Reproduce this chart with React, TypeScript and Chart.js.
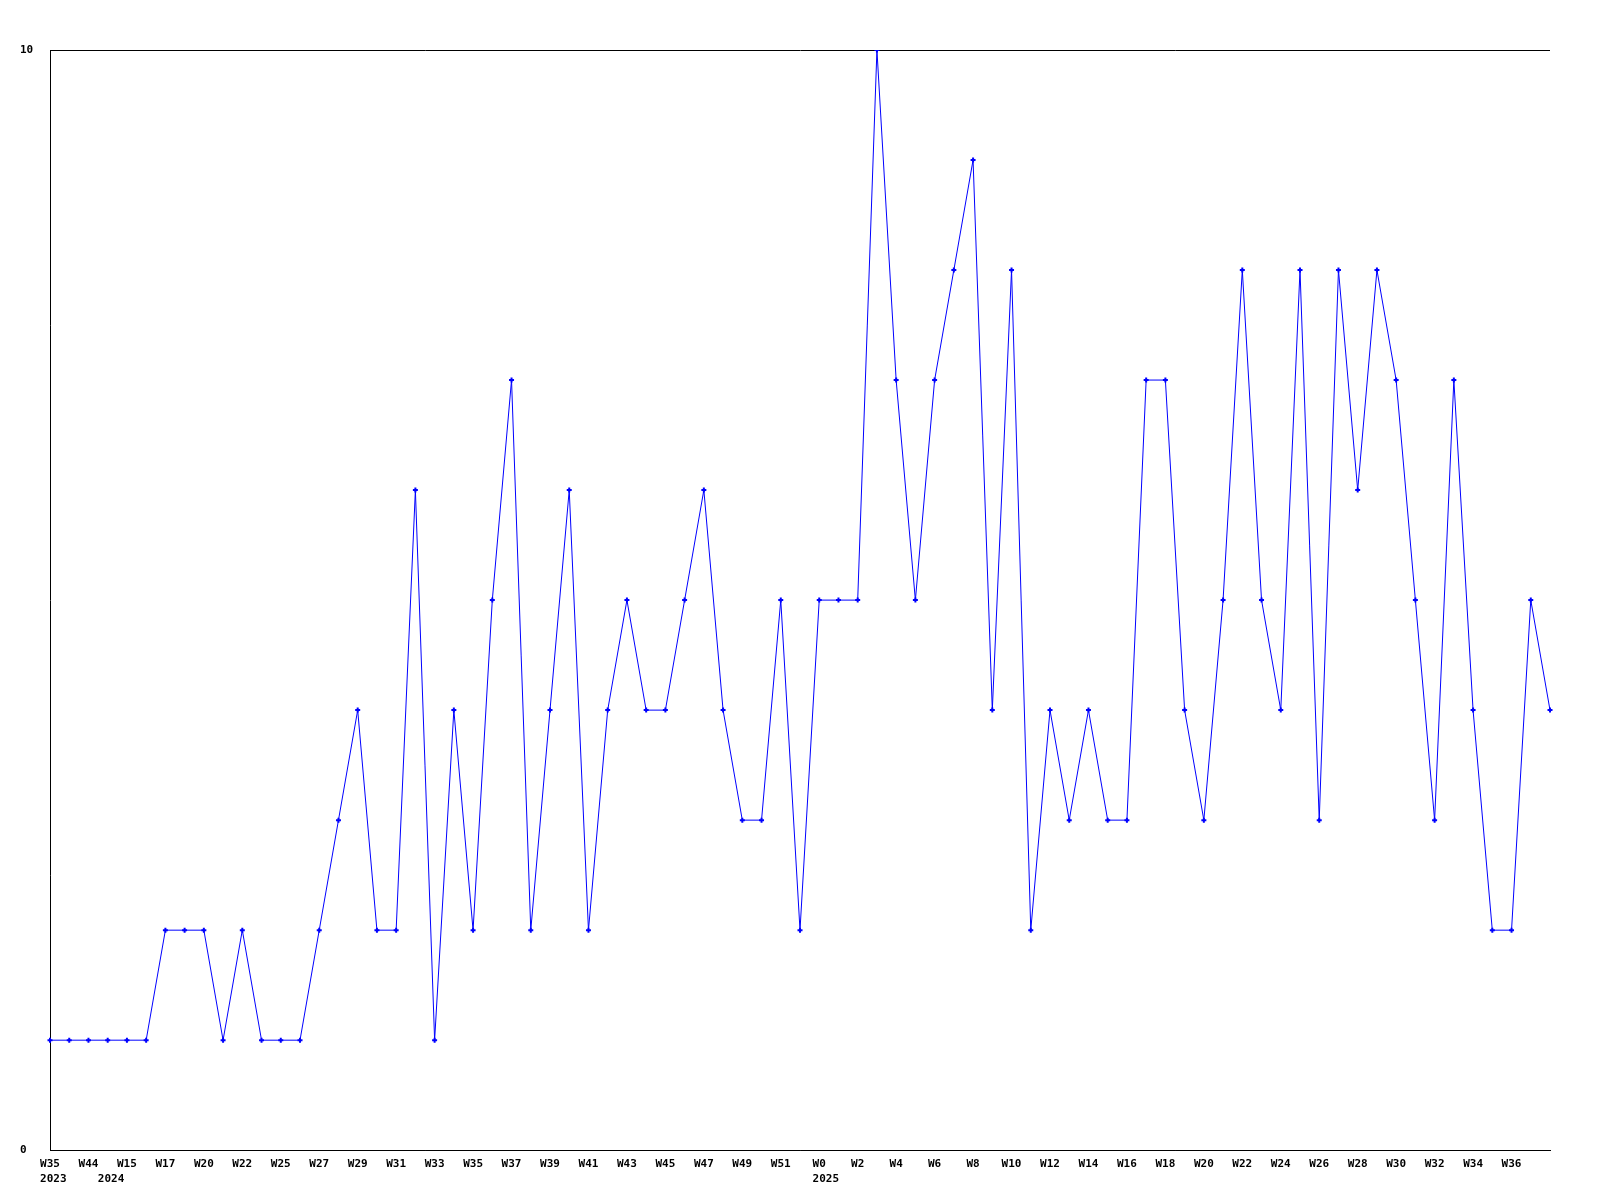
import React, { useEffect, useRef } from "react";
import { Chart, registerables } from "chart.js";

Chart.register(...registerables);

const weeks: string[] = [
  "W35", "W40", "W44", "W14", "W15", "W16", "W17", "W19", "W20", "W21",
  "W22", "W24", "W25", "W26", "W27", "W28", "W29", "W30", "W31", "W32",
  "W33", "W34", "W35", "W36", "W37", "W38", "W39", "W40", "W41", "W42",
  "W43", "W44", "W45", "W46", "W47", "W48", "W49", "W50", "W51", "W52",
  "W0", "W1", "W2", "W3", "W4", "W5", "W6", "W7", "W8", "W9",
  "W10", "W11", "W12", "W13", "W14", "W15", "W16", "W17", "W18", "W19",
  "W20", "W21", "W22", "W23", "W24", "W25", "W26", "W27", "W28", "W29",
  "W30", "W31", "W32", "W33", "W34", "W35", "W36", "W37", "W38",
];

const years: string[] = weeks.map(() => "");
years[0] = "2023";
years[3] = "2024";
years[40] = "2025";

const values: number[] = [
  1, 1, 1, 1, 1, 1, 2, 2, 2, 1,
  2, 1, 1, 1, 2, 3, 4, 2, 2, 6,
  1, 4, 2, 5, 7, 2, 4, 6, 2, 4,
  5, 4, 4, 5, 6, 4, 3, 3, 5, 2,
  5, 5, 5, 10, 7, 5, 7, 8, 9, 4,
  8, 2, 4, 3, 4, 3, 3, 7, 7, 4,
  3, 5, 8, 5, 4, 8, 3, 8, 6, 8,
  7, 5, 3, 7, 4, 2, 2, 5, 4,
];

const yTicks: number[] = [0, 10];

const FONT_FAMILY = "DejaVu Sans Mono";
const FONT_SIZE = 11;
const LINE_H = 1.4;
const TICK_PAD = 6;

const yearPlugin = {
  id: "yearLabels",
  afterDraw(chart: any) {
    const xs = chart.scales.x;
    const ctx = chart.ctx;
    ctx.save();
    ctx.font = `bold ${FONT_SIZE}px "${FONT_FAMILY}"`;
    ctx.fillStyle = "#000";
    ctx.textAlign = "left";
    ctx.textBaseline = "middle";
    const lh = FONT_SIZE * LINE_H;
    const y = xs.top + TICK_PAD + 1.5 * lh;
    years.forEach((yr, i) => {
      if (!yr) return;
      const px = xs.getPixelForValue(i);
      const w = ctx.measureText(weeks[i]).width;
      ctx.fillText(yr, px - w / 2, y);
    });
    ctx.restore();
  },
};

export default function App() {
  const ref = useRef<HTMLCanvasElement | null>(null);

  useEffect(() => {
    if (!ref.current) return;
    const font = { family: FONT_FAMILY, size: FONT_SIZE, weight: "bold" as const, lineHeight: LINE_H };
    const chart = new Chart(ref.current, {
      type: "line",
      data: {
        labels: weeks,
        datasets: [
          {
            data: values,
            borderColor: "#0000ff",
            backgroundColor: "#0000ff",
            borderWidth: 1,
            pointStyle: "cross",
            pointRadius: 2.5,
            pointBorderWidth: 2,
            pointBorderColor: "#0000ff",
            tension: 0,
            fill: false,
          },
        ],
      },
      options: {
        animation: false,
        responsive: false,
        maintainAspectRatio: false,
        layout: { padding: { left: 20, right: 50, top: 50, bottom: 7 } },
        plugins: { legend: { display: false }, tooltip: { enabled: false } },
        scales: {
          x: {
            type: "category",
            offset: false,
            grid: { display: false, drawTicks: false },
            border: { display: true, color: "#000", width: 1 },
            ticks: {
              autoSkip: false,
              maxRotation: 0,
              minRotation: 0,
              padding: TICK_PAD,
              color: "#000",
              font,
              callback: (_v: any, i: number) => {
                const w = i % 2 === 0 && i <= 76 ? weeks[i] : "";
                return [w, ""];
              },
            },
          },
          y: {
            min: 0,
            max: 10,
            afterFit: (s: any) => {
              s.width = 30;
            },
            afterBuildTicks: (s: any) => {
              s.ticks = yTicks.map((v) => ({ value: v }));
            },
            grid: { display: true, color: "#000", lineWidth: 1, drawTicks: false },
            border: { display: true, color: "#000", width: 1 },
            ticks: {
              crossAlign: "far",
              padding: 0,
              color: "#000",
              font,
            },
          },
        },
      },
      plugins: [yearPlugin],
    });
    return () => chart.destroy();
  }, []);

  return (
    <div style={{ position: "fixed", left: 0, top: 0, width: 1600, height: 1200, background: "#fff" }}>
      <canvas ref={ref} width={1600} height={1200} style={{ width: 1600, height: 1200 }} />
    </div>
  );
}
